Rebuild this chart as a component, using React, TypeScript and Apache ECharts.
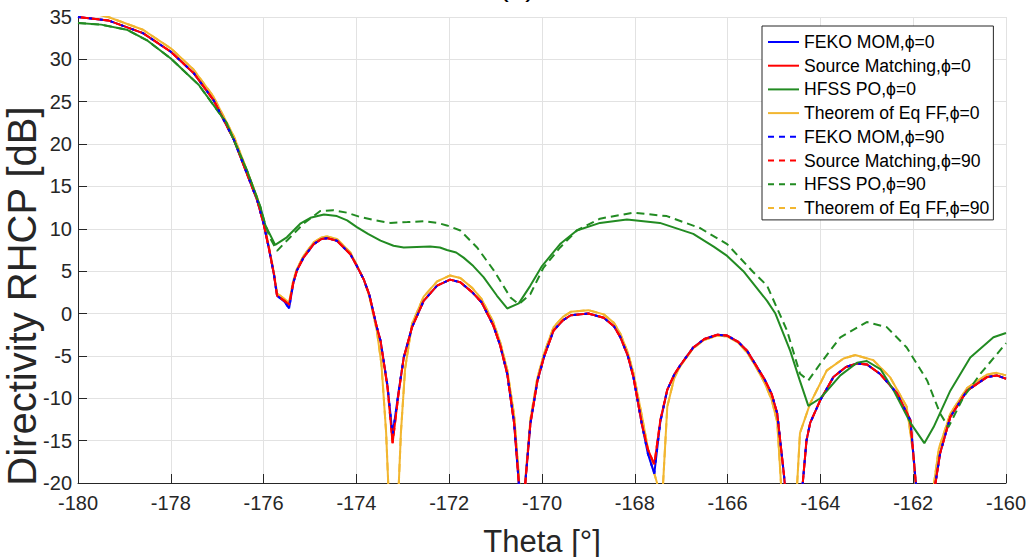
import React, { useEffect, useRef } from "react";
import * as echarts from "echarts";

// ---- axis ticks ----
const X_MIN = -180;
const X_MAX = -160;
const X_STEP = 2;
const Y_MIN = -20;
const Y_MAX = 35;
const Y_STEP = 5;

// ---- series names ----
const seriesNames = [
  "FEKO MOM,ϕ=0",
  "Source Matching,ϕ=0",
  "HFSS PO,ϕ=0",
  "Theorem of Eq FF,ϕ=0",
  "FEKO MOM,ϕ=90",
  "Source Matching,ϕ=90",
  "HFSS PO,ϕ=90",
  "Theorem of Eq FF,ϕ=90",
];

// ---- data: [theta (deg), directivity (dB)] ----
const sourceMatchingPhi0: [number, number][] = [
  [-180, 35.0], [-179.35, 34.6], [-178.6, 33.1], [-178.0, 30.9], [-177.51, 28.4],
  [-177.08, 25.2], [-176.64, 20.5], [-176.36, 16.5], [-176.14, 13.4], [-176.0, 10.6],
  [-175.89, 7.8], [-175.78, 4.7], [-175.71, 2.1], [-175.55, 1.5], [-175.45, 1.0],
  [-175.36, 3.6], [-175.28, 5.1], [-175.14, 6.6], [-174.92, 8.2], [-174.75, 8.8],
  [-174.63, 8.9], [-174.42, 8.6], [-174.13, 7.0], [-173.99, 5.6], [-173.84, 4.0],
  [-173.72, 2.2], [-173.56, -1.6], [-173.48, -3.2], [-173.33, -8.7], [-173.22, -15.3],
  [-173.09, -9.4], [-172.98, -5.2], [-172.8, -1.6], [-172.55, 1.5], [-172.26, 3.3],
  [-171.98, 4.0], [-171.76, 3.7], [-171.5, 2.5], [-171.3, 1.3], [-171.05, -1.4],
  [-170.9, -3.8], [-170.75, -7.1], [-170.6, -13], [-170.5, -20], [-170.43, -28],
  [-170.36, -20], [-170.25, -13], [-170.1, -8], [-169.95, -5], [-169.75, -2.0],
  [-169.55, -0.8], [-169.38, -0.2], [-169.0, 0.0], [-168.67, -0.5], [-168.45, -1.5],
  [-168.31, -2.8], [-168.15, -5.0], [-168.03, -7.5], [-167.85, -13], [-167.72, -16],
  [-167.58, -17.8], [-167.45, -12.6], [-167.3, -9.0], [-167.15, -7.2], [-167.02, -6.1],
  [-166.74, -4.0], [-166.5, -3.0], [-166.22, -2.5], [-166.01, -2.6], [-165.78, -3.3],
  [-165.58, -4.4], [-165.4, -6.0], [-165.2, -7.8], [-165.05, -9.5], [-164.93, -11.8],
  [-164.79, -18.8], [-164.6, -30], [-164.38, -20], [-164.3, -15], [-164.22, -12.9],
  [-164.0, -10.2], [-163.72, -7.5], [-163.45, -6.3], [-163.21, -5.9], [-163.0, -6.0],
  [-162.72, -7.1], [-162.35, -9.4], [-162.06, -12.6], [-161.95, -19.6], [-161.75, -30],
  [-161.52, -20], [-161.42, -16.5], [-161.2, -12.2], [-160.84, -9.1], [-160.41, -7.5],
  [-160.2, -7.3], [-160.0, -7.7],
];

const fekoMomPhi0: [number, number][] = [
  [-180, 35.0], [-179.35, 34.6], [-178.6, 33.1], [-178.0, 30.9], [-177.51, 28.4],
  [-177.08, 25.2], [-176.64, 20.5], [-176.36, 16.5], [-176.14, 13.4], [-176.0, 10.6],
  [-175.89, 7.8], [-175.78, 4.7], [-175.71, 2.1], [-175.55, 1.4], [-175.45, 0.6],
  [-175.36, 3.6], [-175.28, 5.1], [-175.14, 6.6], [-174.92, 8.2], [-174.75, 8.8],
  [-174.63, 8.9], [-174.42, 8.6], [-174.13, 7.0], [-173.99, 5.6], [-173.84, 4.0],
  [-173.72, 2.2], [-173.56, -1.6], [-173.48, -3.2], [-173.33, -8.5], [-173.22, -14.3],
  [-173.09, -9.2], [-172.98, -5.2], [-172.8, -1.6], [-172.55, 1.5], [-172.26, 3.3],
  [-171.98, 4.0], [-171.76, 3.7], [-171.5, 2.5], [-171.3, 1.3], [-171.05, -1.4],
  [-170.9, -3.8], [-170.75, -7.1], [-170.6, -13], [-170.5, -20], [-170.43, -28],
  [-170.36, -20], [-170.25, -13], [-170.1, -8], [-169.95, -5], [-169.75, -2.0],
  [-169.55, -0.8], [-169.38, -0.2], [-169.0, 0.0], [-168.67, -0.5], [-168.45, -1.5],
  [-168.31, -2.8], [-168.15, -5.0], [-168.03, -7.5], [-167.85, -13], [-167.72, -16.5],
  [-167.58, -18.9], [-167.45, -12.8], [-167.3, -9.0], [-167.15, -7.2], [-167.02, -6.1],
  [-166.74, -4.0], [-166.5, -3.0], [-166.22, -2.5], [-166.01, -2.6], [-165.78, -3.3],
  [-165.58, -4.4], [-165.4, -6.0], [-165.2, -7.8], [-165.05, -9.5], [-164.93, -11.8],
  [-164.79, -18.8], [-164.6, -30], [-164.38, -20], [-164.3, -15], [-164.22, -12.9],
  [-164.0, -10.2], [-163.72, -7.5], [-163.45, -6.3], [-163.21, -5.9], [-163.0, -6.0],
  [-162.72, -7.1], [-162.35, -9.4], [-162.06, -12.6], [-161.95, -19.6], [-161.75, -30],
  [-161.52, -20], [-161.42, -16.5], [-161.2, -12.2], [-160.84, -9.1], [-160.41, -7.5],
  [-160.2, -7.3], [-160.0, -7.7],
];

const theoremEqPhi0: [number, number][] = [
  [-180, 35.8], [-179.35, 35.0], [-178.6, 33.5], [-178.0, 31.3], [-177.51, 28.8],
  [-177.08, 25.6], [-176.64, 20.9], [-176.36, 16.9], [-176.14, 13.7], [-176.0, 10.9],
  [-175.89, 8.0], [-175.78, 4.9], [-175.71, 2.4], [-175.55, 1.7], [-175.45, 1.3],
  [-175.36, 3.9], [-175.28, 5.3], [-175.14, 6.8], [-174.92, 8.4], [-174.75, 9.0],
  [-174.63, 9.1], [-174.42, 8.8], [-174.13, 7.2], [-173.99, 5.7], [-173.84, 4.0],
  [-173.72, 2.0], [-173.56, -2.0], [-173.46, -6], [-173.36, -14], [-173.2, -35],
  [-173.04, -14], [-172.95, -6.5], [-172.8, -1.2], [-172.55, 2.0], [-172.26, 3.8],
  [-171.98, 4.5], [-171.76, 4.2], [-171.5, 3.0], [-171.3, 1.7], [-171.05, -1.0],
  [-170.9, -3.4], [-170.75, -6.6], [-170.6, -12], [-170.5, -19], [-170.43, -28],
  [-170.35, -19], [-170.25, -12.5], [-170.1, -7.6], [-169.95, -4.6], [-169.75, -1.6],
  [-169.55, -0.4], [-169.38, 0.2], [-169.0, 0.4], [-168.67, -0.1], [-168.45, -1.1],
  [-168.31, -2.4], [-168.15, -4.6], [-168.03, -7.0], [-167.85, -12], [-167.68, -17],
  [-167.52, -20], [-167.46, -30], [-167.39, -20], [-167.3, -11], [-167.15, -7.6],
  [-167.02, -6.2], [-166.74, -4.1], [-166.5, -3.1], [-166.22, -2.6], [-166.01, -2.7],
  [-165.78, -3.4], [-165.58, -4.6], [-165.4, -6.2], [-165.2, -8.2], [-165.05, -10.2],
  [-164.93, -12.8], [-164.85, -20], [-164.7, -32], [-164.5, -20], [-164.44, -14.1],
  [-164.22, -10.6], [-163.86, -6.7], [-163.5, -5.3], [-163.25, -4.9], [-162.86, -5.5],
  [-162.5, -7.5], [-162.14, -11.0], [-162.0, -16.5], [-161.95, -20], [-161.75, -32],
  [-161.55, -20], [-161.45, -16], [-161.2, -11.8], [-160.84, -8.8], [-160.41, -7.2],
  [-160.2, -7.0], [-160.0, -7.3],
];

const hfssPoPhi0: [number, number][] = [
  [-180, 34.3], [-179.5, 34.1], [-178.95, 33.5], [-178.5, 32.2], [-178.0, 30.1],
  [-177.4, 27.0], [-176.8, 22.5], [-176.36, 16.9], [-176.07, 12.6], [-175.96, 10.4],
  [-175.86, 9.3], [-175.75, 8.1], [-175.5, 9.0], [-175.21, 10.6], [-174.99, 11.3],
  [-174.7, 11.7], [-174.42, 11.5], [-174.2, 11.0], [-173.99, 10.2], [-173.75, 9.4],
  [-173.48, 8.6], [-173.2, 8.0], [-172.98, 7.8], [-172.7, 7.85], [-172.41, 7.9],
  [-172.2, 7.8], [-172.05, 7.5], [-171.85, 7.2], [-171.69, 6.6], [-171.48, 5.6],
  [-171.26, 4.3], [-170.97, 2.1], [-170.75, 0.6], [-170.5, 1.2], [-170.25, 3.3],
  [-170.0, 5.6], [-169.61, 8.2], [-169.25, 9.8], [-168.75, 10.7], [-168.17, 11.1],
  [-167.46, 10.7], [-166.74, 9.4], [-166.3, 7.9], [-166.01, 6.8], [-165.66, 5.0],
  [-165.15, 1.5], [-164.97, 0.0], [-164.65, -4.4], [-164.45, -7.8], [-164.26, -10.9],
  [-164.0, -10.0], [-163.57, -7.3], [-163.21, -5.8], [-163.0, -5.6], [-162.7, -6.6],
  [-162.42, -9.1], [-162.06, -12.9], [-161.76, -15.3], [-161.56, -13.4], [-161.2, -9.1],
  [-160.77, -5.2], [-160.27, -2.8], [-160.0, -2.3],
];

const hfssPoPhi90: [number, number][] = [
  [-180, 34.3], [-179.5, 34.1], [-178.95, 33.5], [-178.5, 32.2], [-178.0, 30.1],
  [-177.4, 27.0], [-176.8, 22.5], [-176.36, 16.9], [-176.07, 12.6], [-175.96, 10.4],
  [-175.86, 8.9], [-175.71, 7.4], [-175.5, 8.6], [-175.14, 10.6], [-174.78, 12.1],
  [-174.5, 12.2], [-174.2, 11.9], [-173.92, 11.4], [-173.6, 11.0], [-173.27, 10.7],
  [-172.9, 10.8], [-172.55, 10.9], [-172.25, 10.7], [-172.05, 10.4], [-171.76, 9.8],
  [-171.4, 7.8], [-171.04, 5.1], [-170.68, 1.9], [-170.5, 1.1], [-170.25, 2.3],
  [-169.97, 5.4], [-169.61, 7.8], [-169.25, 9.8], [-168.75, 11.2], [-168.04, 11.9],
  [-167.31, 11.5], [-166.6, 10.1], [-166.01, 8.2], [-165.45, 4.9], [-165.15, 3.3],
  [-164.72, -2.0], [-164.44, -7.1], [-164.26, -7.9], [-164.0, -5.9], [-163.57, -2.8],
  [-163.0, -1.0], [-162.57, -1.6], [-162.14, -4.0], [-161.7, -7.9], [-161.42, -11.8],
  [-161.24, -13.4], [-160.92, -9.9], [-160.55, -7.1], [-160.0, -3.5],
];

// phi = 90 cuts of FEKO / Source Matching / Theorem coincide with the phi = 0 cuts
const fekoMomPhi90 = fekoMomPhi0;
const sourceMatchingPhi90 = sourceMatchingPhi0;
const theoremEqPhi90 = theoremEqPhi0;

const FONT = "'Liberation Sans', Arial, Helvetica, sans-serif";
const BLUE = "#0000FF";
const RED = "#FF0000";
const GREEN = "#228B22";
const YELLOW = "#F2B630";

export default function App() {
  const ref = useRef<HTMLDivElement>(null);

  useEffect(() => {
    if (!ref.current) return;
    const chart = echarts.init(ref.current, undefined, { renderer: "svg" });

    const line = (
      name: string,
      data: [number, number][],
      color: string,
      dashed: boolean | number[],
      z: number
    ) => ({
      name,
      type: "line",
      data,
      symbol: "none",
      showSymbol: false,
      clip: true,
      z,
      lineStyle: {
        color,
        width: 2,
        type: dashed === false ? "solid" : dashed === true ? [8, 5] : dashed,
      },
      itemStyle: { color },
      emphasis: { disabled: true },
    });

    const legendDash = { type: [6, 5] as number[] };

    chart.setOption({
      animation: false,
      textStyle: { fontFamily: FONT },
      grid: { left: 78, right: 24, top: 17, bottom: 74, containLabel: false },
      xAxis: {
        type: "value",
        min: X_MIN,
        max: X_MAX,
        interval: X_STEP,
        axisLine: { show: true, onZero: false, lineStyle: { color: "#262626", width: 1 } },
        axisTick: { show: true, inside: true, length: 9, lineStyle: { color: "#262626" } },
        axisLabel: { fontSize: 20, color: "#262626", margin: 10, fontFamily: FONT },
        splitLine: { show: true, lineStyle: { color: "#E2E2E2", width: 1 } },
      },
      yAxis: {
        type: "value",
        min: Y_MIN,
        max: Y_MAX,
        interval: Y_STEP,
        axisLine: { show: true, onZero: false, lineStyle: { color: "#262626", width: 1 } },
        axisTick: { show: true, inside: true, length: 9, lineStyle: { color: "#262626" } },
        axisLabel: { fontSize: 20, color: "#262626", margin: 6, fontFamily: FONT },
        splitLine: { show: true, lineStyle: { color: "#E2E2E2", width: 1 } },
      },
      legend: {
        orient: "vertical",
        left: 762,
        top: 26,
        itemWidth: 31,
        itemHeight: 12,
        itemGap: 5.7,
        padding: [7, 4, 3, 5],
        backgroundColor: "#FFFFFF",
        borderColor: "#262626",
        borderWidth: 1,
        borderRadius: 0,
        selectedMode: false,
        itemStyle: { opacity: 0, borderWidth: 0 },
        textStyle: { fontSize: 17.6, color: "#000000", fontFamily: FONT, lineHeight: 18 },
        data: [
          { name: seriesNames[0] },
          { name: seriesNames[1] },
          { name: seriesNames[2] },
          { name: seriesNames[3] },
          { name: seriesNames[4], lineStyle: legendDash },
          { name: seriesNames[5], lineStyle: legendDash },
          { name: seriesNames[6], lineStyle: legendDash },
          { name: seriesNames[7], lineStyle: legendDash },
        ],
      },
      graphic: [
        {
          type: "text",
          x: 517,
          y: 0,
          silent: true,
          style: {
            text: "(a)",
            fontSize: 30,
            fontFamily: FONT,
            fill: "#000000",
            textAlign: "center",
            align: "center",
            textVerticalAlign: "bottom",
            verticalAlign: "bottom",
          },
        },
        {
          type: "text",
          x: 22,
          y: 296,
          rotation: Math.PI / 2,
          silent: true,
          style: {
            text: "Directivity RHCP [dB]",
            fontSize: 40,
            fontFamily: FONT,
            fill: "#262626",
            textAlign: "center",
            align: "center",
            textVerticalAlign: "middle",
            verticalAlign: "middle",
          },
        },
        {
          type: "text",
          x: 542,
          y: 541,
          silent: true,
          style: {
            text: "Theta [°]",
            fontSize: 31,
            fontFamily: FONT,
            fill: "#262626",
            textAlign: "center",
            align: "center",
            textVerticalAlign: "middle",
            verticalAlign: "middle",
          },
        },
      ],
      series: [
        line(seriesNames[0], fekoMomPhi0, BLUE, false, 3),
        line(seriesNames[1], sourceMatchingPhi0, RED, false, 4),
        line(seriesNames[2], hfssPoPhi0, GREEN, false, 6),
        line(seriesNames[3], theoremEqPhi0, YELLOW, false, 2),
        line(seriesNames[4], fekoMomPhi90, BLUE, [3, 8], 8),
        line(seriesNames[5], sourceMatchingPhi90, RED, true, 5),
        line(seriesNames[6], hfssPoPhi90, GREEN, true, 7),
        line(seriesNames[7], theoremEqPhi90, YELLOW, true, 2),
      ],
    });

    return () => {
      chart.dispose();
    };
  }, []);

  return (
    <div
      ref={ref}
      style={{ position: "fixed", left: 0, top: 0, width: 1030, height: 557, background: "#FFFFFF" }}
    />
  );
}
